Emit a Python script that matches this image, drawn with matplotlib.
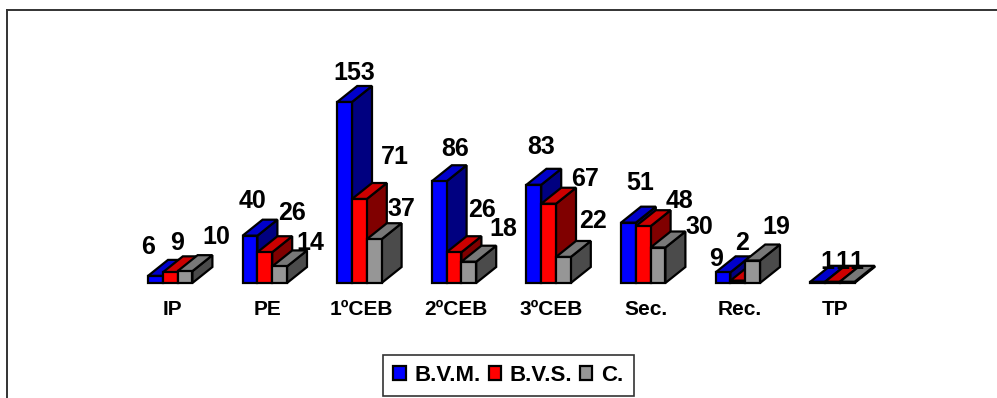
import matplotlib
matplotlib.use("Agg")
import matplotlib.pyplot as plt
from matplotlib.lines import Line2D
from matplotlib.patches import Patch

plt.rcParams["font.family"] = ["Liberation Sans", "DejaVu Sans"]

# ── Data ──────────────────────────────────────────────────────────────────────
categories = ["IP", "PE", "1ºCEB", "2ºCEB", "3ºCEB", "Sec.", "Rec.", "TP"]
bvm = [6, 40, 153, 86, 83, 51, 9, 1]
bvs = [9, 26, 71, 26, 67, 48, 2, 1]
c = [10, 14, 37, 18, 22, 30, 19, 1]
series_names = ["B.V.M.", "B.V.S.", "C."]

# ── Layout (pixels at 100 dpi) ────────────────────────────────────────────────
W, H = 997, 398
BASE_Y = 283
X0 = 148
GROUP_STEP = 94.6
PX_PER_UNIT = 1.183
BAR_W = 14.8 / GROUP_STEP
DEPTH_X = 20 / GROUP_STEP
DEPTH_Y = 16 / PX_PER_UNIT

# face, top, side
COLORS = [
    ("#0000ff", "#0000cc", "#000080"),
    ("#ff0000", "#cc0000", "#800000"),
    ("#969696", "#787878", "#4b4b4b"),
]

# label centres in pixels, one row per series
LABEL_XY = [
    [(148, 247), (252, 201), (354, 73), (455, 149), (541, 147), (640, 183), (716, 259), (827, 262)],
    [(177, 243), (292, 213), (395, 157), (482, 210), (585, 179), (679, 201), (742, 243), (842, 262)],
    [(216, 237), (310, 243), (401, 209), (503, 229), (593, 221), (699, 227), (776, 227), (856, 262)],
]

fig = plt.figure(figsize=(W / 100, H / 100), dpi=100, facecolor="white")

# axes sit on the baseline so the categories can be real tick labels
left, right, top = 100, 900, 40
ax = fig.add_axes([left / W, (H - BASE_Y) / H, (right - left) / W, (BASE_Y - top) / H])
ax.set_xlim((left - X0) / GROUP_STEP, (right - X0) / GROUP_STEP)
ax.set_ylim(0, (BASE_Y - top) / PX_PER_UNIT)
ax.patch.set_visible(False)
ax.spines[["top", "right", "left", "bottom"]].set_visible(False)
ax.set_yticks([])


def px_to_data(px, py):
    return (px - X0) / GROUP_STEP, (BASE_Y - py) / PX_PER_UNIT


EDGE = dict(edgecolor="black", linewidth=1.6, clip_on=False, joinstyle="miter")

# ── 3-D looking bars, painted series by series ────────────────────────────────
for s, values in enumerate([bvm, bvs, c]):
    face, top_c, side = COLORS[s]
    for i, v in enumerate(values):
        x = i + s * BAR_W
        z = 2 + s
        ax.fill([x + BAR_W, x + BAR_W + DEPTH_X, x + BAR_W + DEPTH_X, x + BAR_W],
                [0, DEPTH_Y, v + DEPTH_Y, v], facecolor=side, zorder=z, **EDGE)
        ax.fill([x, x + DEPTH_X, x + BAR_W + DEPTH_X, x + BAR_W],
                [v, v + DEPTH_Y, v + DEPTH_Y, v], facecolor=top_c, zorder=z, **EDGE)
        ax.bar(x, v, width=BAR_W, align="edge", color=face, zorder=z, **EDGE)

# ── Value labels ──────────────────────────────────────────────────────────────
for values, row in zip([bvm, bvs, c], LABEL_XY):
    for v, (px, py) in zip(values, row):
        tx, ty = px_to_data(px, py)
        ax.text(tx, ty, str(v), ha="center", va="center", fontsize=18,
                fontweight="bold", color="black", zorder=10, clip_on=False)

# ── Category labels ───────────────────────────────────────────────────────────
ax.set_xticks([i + 24.5 / GROUP_STEP for i in range(len(categories))])
ax.set_xticklabels(categories, fontsize=15, fontweight="bold")
ax.tick_params(axis="x", length=0, pad=12)

# ── Frame: only the top and left edges show ───────────────────────────────────
fig.add_artist(Line2D([7 / W, 1], [1 - 10 / H, 1 - 10 / H], color="#333333", linewidth=1.4))
fig.add_artist(Line2D([7 / W, 7 / W], [0, 1 - 10 / H], color="#333333", linewidth=1.4))

# ── Legend ────────────────────────────────────────────────────────────────────
handles = [Patch(facecolor=COLORS[k][0], edgecolor="black", linewidth=1.6, label=series_names[k])
           for k in range(3)]
leg = fig.legend(
    handles=handles, ncol=3, loc="center",
    bbox_to_anchor=(508.5 / W, 1 - 375.5 / H),
    prop={"size": 16, "weight": "bold"},
    frameon=True, fancybox=False, framealpha=1, edgecolor="#333333",
    handlelength=0.55, handleheight=0.55, handletextpad=0.4, columnspacing=0.35,
    borderpad=0.45, borderaxespad=0,
)
leg.get_frame().set_linewidth(1.2)

fig.savefig("out.png", dpi=100, facecolor="white")
plt.close(fig)
